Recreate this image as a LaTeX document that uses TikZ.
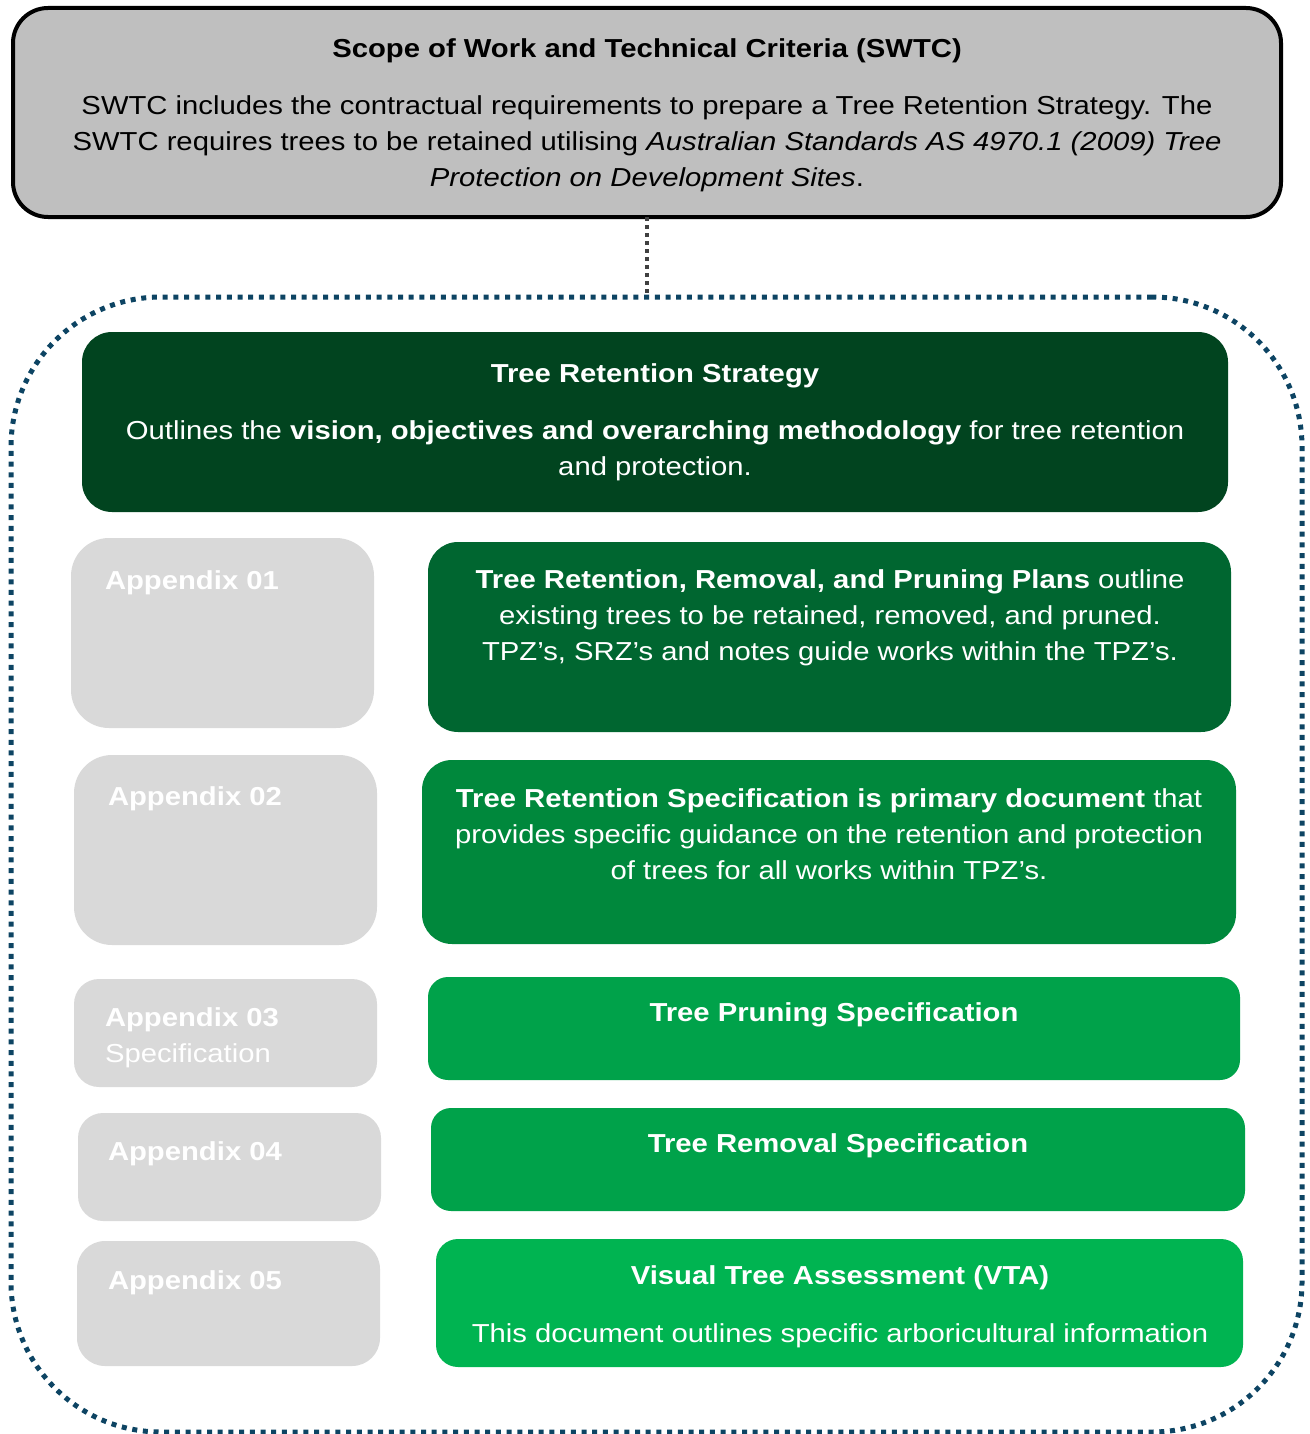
\documentclass[tikz,border=0pt]{standalone}
\usepackage{fontspec}
\setmainfont{Liberation Sans}[FakeStretch=1.125]
\definecolor{topgray}{HTML}{BFBFBF}
\definecolor{appgray}{HTML}{D9D9D9}
\definecolor{gA}{HTML}{01441F}
\definecolor{gB}{HTML}{006630}
\definecolor{gC}{HTML}{00883C}
\definecolor{gD}{HTML}{00A24A}
\definecolor{gE}{HTML}{00B451}
\definecolor{dotblue}{HTML}{0D4463}
\definecolor{dotgray}{HTML}{404040}
\begin{document}
\begin{tikzpicture}[x=1pt,y=-1pt,
  every node/.style={inner sep=0pt, outer sep=0pt},
  gbox/.style={draw=none, rounded corners=30pt},
  abox/.style={draw=none, fill=appgray, rounded corners=38pt},
  wtxt/.style={text=white, font=\fontsize{26}{36}\selectfont, align=center},
  ltxt/.style={text=white, font=\fontsize{26}{36}\selectfont\bfseries, anchor=base west},
  btxt/.style={text=black, font=\fontsize{26}{36}\selectfont, align=center}
]
\useasboundingbox (0,0) rectangle (1309,1434);

% outer dotted frame
\node[draw=dotblue, line width=5pt, dash pattern=on 5pt off 5.7pt, rounded corners=150pt,
      minimum width=1291pt, minimum height=1135pt] (frame) at (656.5,864.5) {};

% top box
\node[draw=black, line width=4pt, fill=topgray, rounded corners=35pt,
      minimum width=1268pt, minimum height=209pt] (swtc) at (647,112.5) {};
\node[btxt, font=\fontsize{26}{36}\selectfont\bfseries, anchor=base] (swtct) at (647,58) {Scope of Work and Technical Criteria (SWTC)};
\node[btxt, anchor=north] (swtcb) at (647,96) {SWTC includes the contractual requirements to prepare a Tree Retention Strategy. The\\
SWTC requires trees to be retained utilising \textit{Australian Standards AS 4970.1 (2009) Tree}\\
\textit{Protection on Development Sites}.};

\draw[dotgray, line width=4pt, dash pattern=on 4pt off 4pt] (swtc.south) -- (swtc.south |- frame.north);

% strategy
\node[gbox, fill=gA, minimum width=1146pt, minimum height=180pt] (trs) at (655,422) {};
\node[wtxt, font=\fontsize{26}{36}\selectfont\bfseries, anchor=base] (trst) at (655,382) {Tree Retention Strategy};
\node[wtxt, anchor=north] (trsb) at (655,421) {Outlines the \textbf{vision, objectives and overarching methodology} for tree retention\\ and protection.};

% appendix boxes
\node[abox, minimum width=303pt, minimum height=190pt] (a1) at (222.5,633) {};
\node[ltxt] (a1t) at (105,589) {Appendix 01};
\node[abox, minimum width=303pt, minimum height=190pt] (a2) at (225.5,850) {};
\node[ltxt] (a2t) at (108,805) {Appendix 02};
\node[abox, rounded corners=25pt, minimum width=303pt, minimum height=108pt] (a3) at (225.5,1033) {};
\node[ltxt] (a3t) at (105,1026) {Appendix 03};
\node[ltxt, font=\fontsize{26}{36}\selectfont] (a3s) at (105,1062) {Specification};
\node[abox, rounded corners=25pt, minimum width=303pt, minimum height=108pt] (a4) at (229.5,1167) {};
\node[ltxt] (a4t) at (108,1160) {Appendix 04};
\node[abox, rounded corners=28pt, minimum width=303pt, minimum height=125pt] (a5) at (228.5,1303.5) {};
\node[ltxt] (a5t) at (108,1289) {Appendix 05};

% green boxes
\node[gbox, fill=gB, minimum width=803pt, minimum height=190pt] (g1) at (829.5,637) {};
\node[wtxt, anchor=north] (g1t) at (830,570) {\textbf{Tree Retention, Removal, and Pruning Plans} outline\\
existing trees to be retained, removed, and pruned.\\
TPZ’s, SRZ’s and notes guide works within the TPZ’s.};
\node[gbox, fill=gC, minimum width=814pt, minimum height=184pt] (g2) at (829,852) {};
\node[wtxt, anchor=north] (g2t) at (829,789) {\textbf{Tree Retention Specification is primary document} that\\
provides specific guidance on the retention and protection\\
of trees for all works within TPZ’s.};
\node[gbox, rounded corners=20pt, fill=gD, minimum width=812pt, minimum height=103pt] (g3) at (834,1028.5) {};
\node[wtxt, font=\fontsize{26}{36}\selectfont\bfseries, anchor=base] (g3t) at (834,1021) {Tree Pruning Specification};
\node[gbox, rounded corners=20pt, fill=gD, minimum width=814pt, minimum height=103pt] (g4) at (838,1159.5) {};
\node[wtxt, font=\fontsize{26}{36}\selectfont\bfseries, anchor=base] (g4t) at (838,1152) {Tree Removal Specification};
\node[gbox, rounded corners=22pt, fill=gE, minimum width=807pt, minimum height=128pt] (g5) at (839.5,1303) {};
\node[wtxt, font=\fontsize{26}{36}\selectfont\bfseries, anchor=base] (g5t) at (840,1284) {Visual Tree Assessment (VTA)};
\node[wtxt, anchor=base] (g5b) at (840,1342) {This document outlines specific arboricultural information};
\end{tikzpicture}
\end{document}
